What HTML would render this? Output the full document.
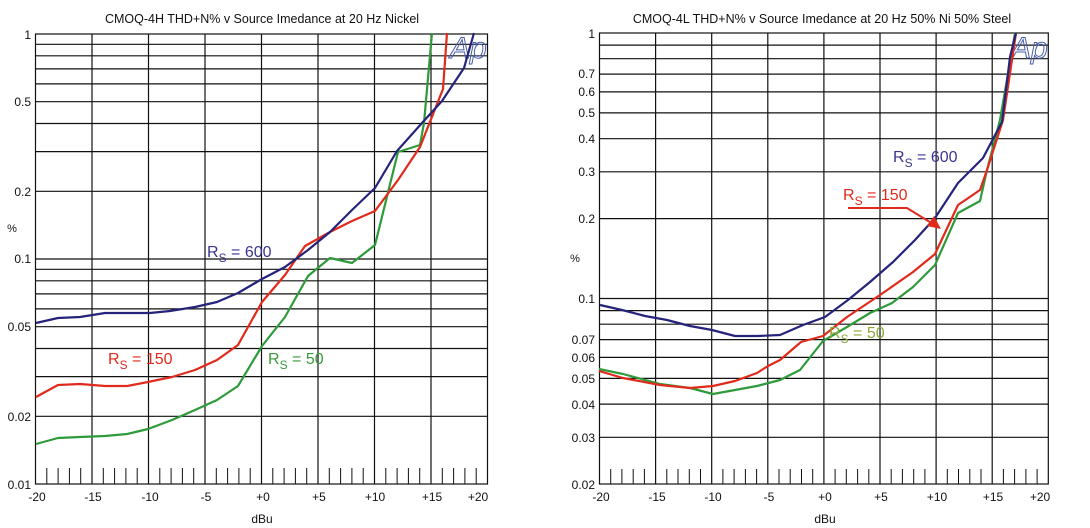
<!DOCTYPE html>
<html><head><meta charset="utf-8"><style>
html,body{margin:0;padding:0;background:#fff;}
svg{display:block;font-family:"Liberation Sans",sans-serif;}
</style></head><body>
<svg width="1090" height="528" viewBox="0 0 1090 528" xmlns="http://www.w3.org/2000/svg">
<defs>
<g id="tl"><path d="M11.3 468V484M22.6 468V484M33.9 468V484M45.2 468V484" stroke="#111" stroke-width="1"/></g>
<g id="tr"><path d="M11.2 469V484M22.4 469V484M33.7 469V484M44.9 469V484" stroke="#111" stroke-width="1"/></g>
</defs>
<rect width="1090" height="528" fill="#fff"/>

<!-- LEFT CHART -->
<text x="262" y="23" font-size="12.5" text-anchor="middle" fill="#111">CMOQ-4H THD+N% v Source Imedance at 20 Hz  Nickel</text>
<g stroke="#111" stroke-width="1.2" fill="none">
<rect x="35.5" y="34" width="452" height="450"/>
<path d="M35.5 44.3H487.5M35.5 55.8H487.5M35.5 68.9H487.5M35.5 83.9H487.5M35.5 101.7H487.5M35.5 123.5H487.5M35.5 151.6H487.5M35.5 191.3H487.5M35.5 259H487.5M35.5 269.3H487.5M35.5 280.8H487.5M35.5 293.9H487.5M35.5 308.9H487.5M35.5 326.7H487.5M35.5 348.5H487.5M35.5 376.6H487.5M35.5 416.3H487.5"/>
<path d="M92 34V484M148.5 34V484M205 34V484M261.5 34V484M318 34V484M374.5 34V484M431 34V484"/>
</g>
<use href="#tl" x="35.5"/><use href="#tl" x="92"/><use href="#tl" x="148.5"/><use href="#tl" x="205"/><use href="#tl" x="261.5"/><use href="#tl" x="318"/><use href="#tl" x="374.5"/><use href="#tl" x="431"/>
<g font-size="12" fill="#111" text-anchor="end">
<text x="31" y="39">1</text><text x="31" y="106">0.5</text><text x="31" y="196">0.2</text><text x="31" y="263">0.1</text><text x="31" y="331">0.05</text><text x="31" y="421">0.02</text><text x="31" y="489">0.01</text>
</g>
<text x="12" y="232" font-size="11" text-anchor="middle" fill="#111">%</text>
<g font-size="12" fill="#111" text-anchor="middle">
<text x="37" y="501">-20</text><text x="93" y="501">-15</text><text x="150" y="501">-10</text><text x="206" y="501">-5</text><text x="263" y="501">+0</text><text x="319" y="501">+5</text><text x="375" y="501">+10</text><text x="432" y="501">+15</text><text x="478" y="501">+20</text>
<text x="262" y="523">dBu</text>
</g>
<text x="450" y="58" font-size="30" font-style="italic" fill="none" stroke="#4a5fa8" stroke-width="1">Ap</text>
<g fill="none" stroke-width="2.2" stroke-linejoin="round">
<polyline stroke="#2e9a3a" points="36,444 58,438 80,437 105,436 127,434 148,429 172,420 195,410 217,400 238,386 262,346 285,317 308,276 330,258 352,263 375,245 398,152 420,145 424,123 432,33"/>
<polyline stroke="#e02a1c" points="36,397 58,385 80,384 105,386 127,386 148,382 172,377 195,370 217,360 238,345 262,302 285,275 305,246 330,232 352,221 375,211 398,180 420,147 443,89 447,33"/>
<polyline stroke="#26237a" points="36,323 58,318 80,317 105,313 150,313 170,311 195,307 217,302 238,293 262,279 285,267 308,250 330,232 352,210 375,188 397,151 422,123 442,101 464,68 474,33"/>
</g>
<text x="207" y="257" font-size="16" fill="#3a3590">R<tspan font-size="12" dy="5">S</tspan><tspan dy="-5"> = 600</tspan></text>
<text x="108" y="364" font-size="16" fill="#e02a1c">R<tspan font-size="12" dy="5">S</tspan><tspan dy="-5"> = 150</tspan></text>
<text x="268" y="364" font-size="16" fill="#3a9a3a">R<tspan font-size="12" dy="5">S</tspan><tspan dy="-5"> = 50</tspan></text>

<!-- RIGHT CHART -->
<text x="822" y="23" font-size="12.5" text-anchor="middle" fill="#111">CMOQ-4L THD+N% v Source Imedance at 20 Hz  50% Ni 50% Steel</text>
<g stroke="#111" stroke-width="1.2" fill="none">
<rect x="599.5" y="33" width="448.8" height="451"/>
<path d="M599.5 45.1H1048.3M599.5 58.7H1048.3M599.5 74.1H1048.3M599.5 91.9H1048.3M599.5 112.9H1048.3M599.5 138.7H1048.3M599.5 171.8H1048.3M599.5 218.6H1048.3M599.5 298.5H1048.3M599.5 310.6H1048.3M599.5 324.2H1048.3M599.5 339.6H1048.3M599.5 357.4H1048.3M599.5 378.4H1048.3M599.5 404.1H1048.3M599.5 437.3H1048.3"/>
<path d="M655.6 33V484M711.7 33V484M767.8 33V484M823.9 33V484M880 33V484M936.1 33V484M992.2 33V484"/>
</g>
<use href="#tr" x="599.5"/><use href="#tr" x="655.6"/><use href="#tr" x="711.7"/><use href="#tr" x="767.8"/><use href="#tr" x="823.9"/><use href="#tr" x="880"/><use href="#tr" x="936.1"/><use href="#tr" x="992.2"/>
<g font-size="12" fill="#111" text-anchor="end">
<text x="595" y="38">1</text><text x="595" y="78">0.7</text><text x="595" y="96">0.6</text><text x="595" y="117">0.5</text><text x="595" y="143">0.4</text><text x="595" y="176">0.3</text><text x="595" y="223">0.2</text><text x="595" y="303">0.1</text><text x="595" y="344">0.07</text><text x="595" y="362">0.06</text><text x="595" y="383">0.05</text><text x="595" y="409">0.04</text><text x="595" y="442">0.03</text><text x="595" y="489">0.02</text>
</g>
<text x="575" y="262" font-size="11" text-anchor="middle" fill="#111">%</text>
<g font-size="12" fill="#111" text-anchor="middle">
<text x="601" y="501">-20</text><text x="657" y="501">-15</text><text x="713" y="501">-10</text><text x="769" y="501">-5</text><text x="825" y="501">+0</text><text x="881" y="501">+5</text><text x="937" y="501">+10</text><text x="993" y="501">+15</text><text x="1040" y="501">+20</text>
<text x="825" y="523">dBu</text>
</g>
<text x="1011" y="58" font-size="30" font-style="italic" fill="none" stroke="#4a5fa8" stroke-width="1">Ap</text>
<g fill="none" stroke-width="2.2" stroke-linejoin="round">
<polyline stroke="#2e9a3a" points="599,369 623,374 660,384 690,388 713,394 735,390 757,386 780,380 800,370 823,341 847,327 870,313 892,303 913,287 935,265 958,213 980,201 987,170 1000,120 1015,33"/>
<polyline stroke="#e02a1c" points="599,371 623,378 660,385 690,388 713,386 735,381 757,373 768,366 780,360 801,342 823,336 847,317 880,295 913,272 935,254 958,205 980,190 987,170 1003,120 1016,33"/>
<polyline stroke="#26237a" points="600,305 622,310 645,316 667,320 690,326 712,330 735,336 758,336 780,335 803,325 825,317 848,300 870,282 893,262 915,240 935,218 958,183 983,158 1002,122 1010,57 1016,33"/>
</g>
<text x="893" y="162" font-size="16" fill="#3a3590">R<tspan font-size="12" dy="5">S</tspan><tspan dy="-5"> = 600</tspan></text>
<text x="843" y="200" font-size="16" fill="#e02a1c">R<tspan font-size="12" dy="5">S</tspan><tspan dy="-5"> = 150</tspan></text>
<polyline points="848,208 907,208 933,224" fill="none" stroke="#e02a1c" stroke-width="2"/>
<polygon points="927,226 941,229 934,216" fill="#e02a1c"/>
<text x="829" y="338" font-size="16" fill="#8aa83a">R<tspan font-size="12" dy="5">S</tspan><tspan dy="-5"> = 50</tspan></text>
</svg>
</body></html>
